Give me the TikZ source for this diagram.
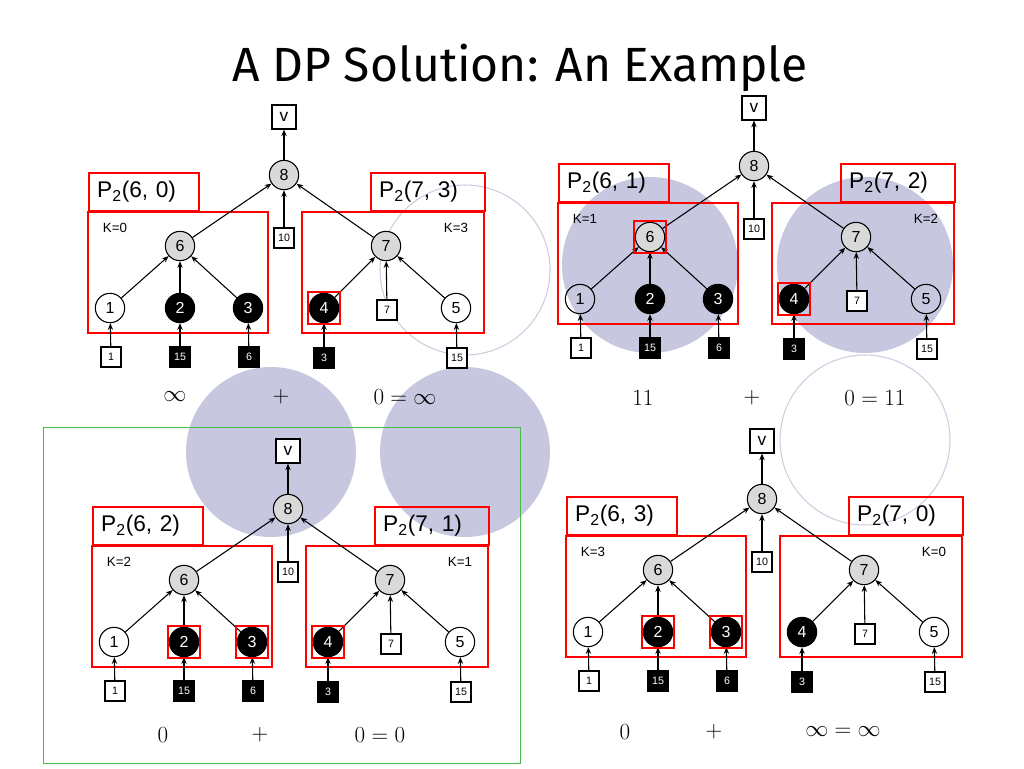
\documentclass[tikz,border=0pt]{standalone}
\usepackage{fontspec}
\setmainfont{Liberation Sans}
\newfontfamily\titlefont{Fira Sans}
\usetikzlibrary{fit,arrows.meta}

\tikzset{
  vtx/.style={circle,draw,line width=0.8pt,minimum size=22pt,inner sep=0pt,font=\fontsize{12}{12}\selectfont},
  gvtx/.style={vtx,fill=black!15},
  bvtx/.style={vtx,fill=black,text=white},
  inbox/.style={draw,line width=0.8pt,fill=white,minimum size=15pt,inner sep=0pt,font=\fontsize{8}{8}\selectfont},
  binbox/.style={inbox,fill=black,text=white},
  redbox/.style={draw=red,line width=1.3pt},
  lbl/.style={redbox,anchor=north west,minimum height=28.5pt,align=left,
    inner xsep=6pt,font=\fontsize{17}{17}\selectfont},
  kval/.style={font=\fontsize{10}{10}\selectfont},
  edge/.style={line width=0.8pt,-{Stealth[length=5pt,width=4pt]}},
  sumtxt/.style={font=\fontsize{16}{16}\selectfont},
  blob/.style={fill=blue!45!black!22},
  ring/.style={draw=blue!40!black!20,thick}
}

% one P_2 panel: shift x, shift y, prefix, left j, right j, left K, right K, highlighted nodes
\newcommand\dppanel[8]{%
\begin{scope}[shift={(#1,#2)},name prefix=#3]
  \draw[redbox] (88,212) rectangle (268,333);
  \draw[redbox] (302,212) rectangle (484,333);
  \node[lbl,minimum width=82.5pt,text width=70pt] (lp) at (88,172) {P\textsubscript{2}(6, #4)};
  \node[lbl,minimum width=85.5pt,text width=73pt] (rp) at (370,172) {P\textsubscript{2}(7, #5)};
  \node[kval] (lk) at (115,228) {K=#6};
  \node[kval] (rk) at (456,228) {K=#7};
  % tree
  \node[draw,line width=0.8pt,fill=white,minimum size=18pt,inner sep=0pt,font=\fontsize{13}{13}\selectfont] (v) at (284,117) {v};
  \node[gvtx] (n8) at (284,175) {8};
  \node[inbox] (b10) at (284,238) {10};
  \node[gvtx] (n6) at (180,246) {6};
  \node[gvtx] (n7) at (386,246) {7};
  \node[vtx] (n1) at (110,308) {1};
  \node[bvtx] (n2) at (180,308) {2};
  \node[bvtx] (n3) at (248,308) {3};
  \node[bvtx] (n4) at (324,308) {4};
  \node[inbox] (b7) at (387,310) {7};
  \node[vtx] (n5) at (456,308) {5};
  \node[inbox] (i1) at (111,357) {1};
  \node[binbox] (i2) at (180,357) {15};
  \node[binbox] (i3) at (249,357) {6};
  \node[binbox] (i4) at (324,358) {3};
  \node[inbox] (i5) at (457,358) {15};
  \draw[edge] (n8) -- (v);
  \draw[edge] (n6) -- (n8);
  \draw[edge] (b10) -- (n8);
  \draw[edge] (n7) -- (n8);
  \foreach \c in {n1,n2,n3} \draw[edge] (\c) -- (n6);
  \foreach \c in {n4,b7,n5} \draw[edge] (\c) -- (n7);
  \foreach \i/\c in {i1/n1,i2/n2,i3/n3,i4/n4,i5/n5} \draw[edge] (\i) -- (\c);
  \foreach \h in {#8} \node[redbox,fit=(\h),inner sep=0.5pt] {};
\end{scope}}

\begin{document}
\begin{tikzpicture}[x=0.75pt,y=-0.75pt]
  \useasboundingbox (0,0) rectangle (1024,768);
  % background discs
  \fill[blob] (271,452) circle (85);
  \fill[blob] (465,452) circle (85);
  \fill[blob] (650,265) circle (88);
  \fill[blob] (865,265) circle (88);
  \draw[ring] (465,270) circle (85);
  \draw[ring] (865,440) circle (85);
  \draw[green!60!black!70] (43,427) rectangle (520,763);

  \node[font=\titlefont\fontsize{36}{36}\selectfont] (title) at (520,68) {A DP Solution: An Example};

  \dppanel{0}{0}{tl-}{0}{3}{0}{3}{n4}
  \dppanel{470}{-9}{tr-}{1}{2}{1}{2}{n6,n4}
  \dppanel{4}{334}{bl-}{2}{1}{2}{1}{n2,n3,n4}
  \dppanel{478}{324}{br-}{3}{0}{3}{0}{n2,n3}

  % sums
  \node[sumtxt] (tla) at (175,397) {$\infty$};
  \node[sumtxt] (tlb) at (281,397) {$+$};
  \node[sumtxt] (tlc) at (405,397) {$0=\infty$};
  \node[sumtxt] (tra) at (643,398) {$11$};
  \node[sumtxt] (trb) at (752,398) {$+$};
  \node[sumtxt] (trc) at (875,398) {$0=11$};
  \node[sumtxt] (bla) at (163,735) {$0$};
  \node[sumtxt] (blb) at (260,735) {$+$};
  \node[sumtxt] (blc) at (380,735) {$0=0$};
  \node[sumtxt] (bra) at (625,732) {$0$};
  \node[sumtxt] (brb) at (714,732) {$+$};
  \node[sumtxt] (brc) at (843,732) {$\infty=\infty$};
\end{tikzpicture}
\end{document}
